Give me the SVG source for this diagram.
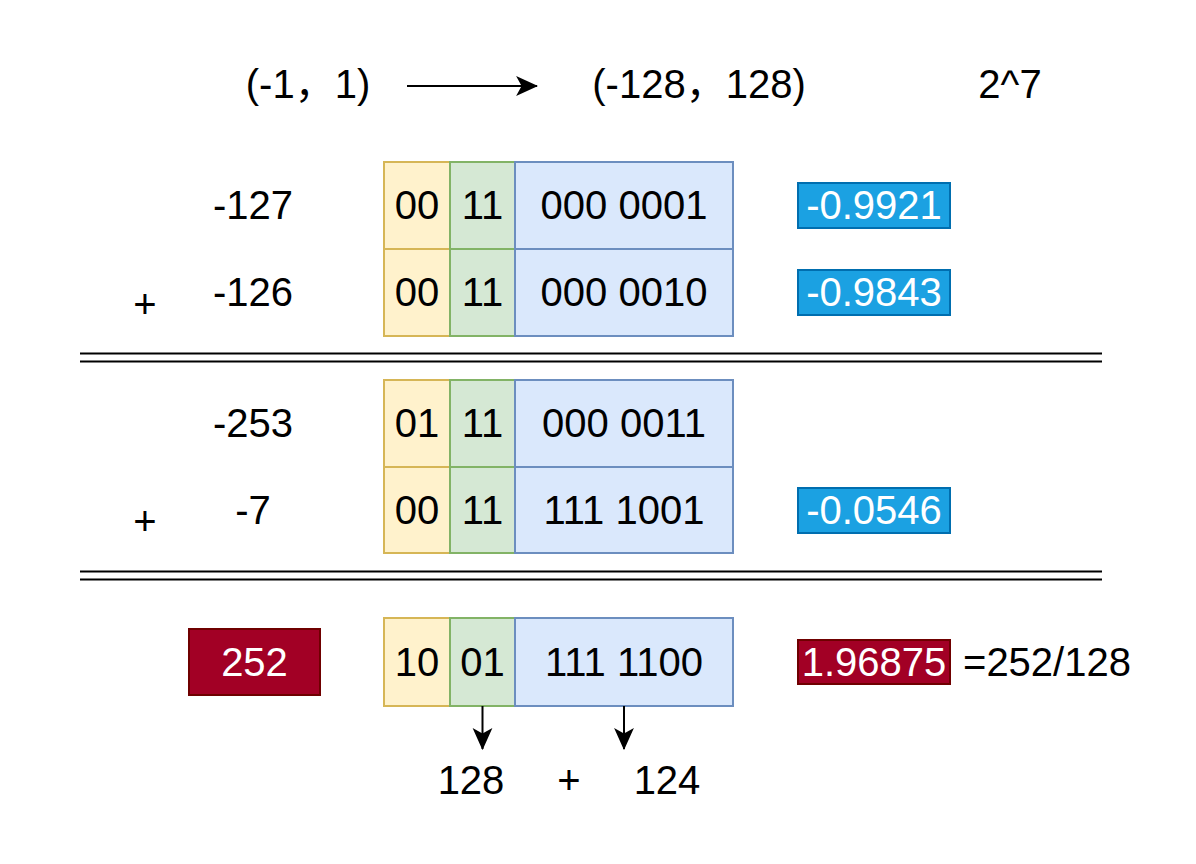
<svg xmlns="http://www.w3.org/2000/svg" width="1196" height="864" viewBox="0 0 1196 864">
<style>
text{font-family:"Liberation Sans","Noto Sans CJK SC",sans-serif;font-size:40px;fill:#000;text-anchor:middle}
.w{fill:#fff}
.y{fill:#fff2cc;stroke:#d6b656;stroke-width:2}
.g{fill:#d5e8d4;stroke:#82b366;stroke-width:2}
.b{fill:#dae8fc;stroke:#6c8ebf;stroke-width:2}
.lb{fill:#1ba1e2;stroke:#006eaf;stroke-width:2}
.rd{fill:#a20025;stroke:#6f0000;stroke-width:2}
.ln{stroke:#000;stroke-width:2;fill:none}
</style>
<defs>
<marker id="ah" markerUnits="userSpaceOnUse" markerWidth="22" markerHeight="22" viewBox="0 0 20 18" refX="19" refY="9" orient="auto">
<path d="M0,0 L20,9 L0,18 L5,9 Z" fill="#000"/>
</marker>
</defs>
<rect width="1196" height="864" fill="#fff"/>

<g id="header">
<text x="308" y="98">(-1，1)</text>
<text x="699" y="98">(-128，128)</text>
<text x="1010" y="98">2^7</text>
</g>

<g id="row1">
<text x="253" y="219">-127</text>
<rect class="y" x="384" y="162" width="66" height="87"/>
<rect class="g" x="450" y="162" width="65" height="87"/>
<rect class="b" x="515" y="162" width="218" height="87"/>
<text x="417" y="219">00</text>
<text x="482.5" y="219">11</text>
<text x="624" y="219">000 0001</text>
</g>
<g id="lbl1"><rect class="lb" x="798" y="183" width="152" height="45"/><text class="w" x="874" y="219">-0.9921</text></g>

<g id="row2">
<text x="145" y="318">+</text>
<text x="253" y="306">-126</text>
<rect class="y" x="384" y="249" width="66" height="87"/>
<rect class="g" x="450" y="249" width="65" height="87"/>
<rect class="b" x="515" y="249" width="218" height="87"/>
<text x="417" y="306">00</text>
<text x="482.5" y="306">11</text>
<text x="624" y="306">000 0010</text>
</g>
<g id="lbl2"><rect class="lb" x="798" y="270" width="152" height="45"/><text class="w" x="874" y="306">-0.9843</text></g>

<g id="sep1">
<line class="ln" x1="80" y1="353.5" x2="1102" y2="353.5"/>
<line class="ln" x1="80" y1="361.5" x2="1102" y2="361.5"/>
</g>

<g id="row3">
<text x="253" y="437">-253</text>
<rect class="y" x="384" y="380" width="66" height="87"/>
<rect class="g" x="450" y="380" width="65" height="87"/>
<rect class="b" x="515" y="380" width="218" height="87"/>
<text x="417" y="437">01</text>
<text x="482.5" y="437">11</text>
<text x="624" y="437">000 0011</text>
</g>

<g id="row4">
<text x="145" y="535">+</text>
<text x="253" y="524">-7</text>
<rect class="y" x="384" y="467" width="66" height="86"/>
<rect class="g" x="450" y="467" width="65" height="86"/>
<rect class="b" x="515" y="467" width="218" height="86"/>
<text x="417" y="524">00</text>
<text x="482.5" y="524">11</text>
<text x="624" y="524">111 1001</text>
</g>
<g id="lbl4"><rect class="lb" x="798" y="488" width="152" height="45"/><text class="w" x="874" y="524">-0.0546</text></g>

<g id="sep2">
<line class="ln" x1="80" y1="571.5" x2="1102" y2="571.5"/>
<line class="ln" x1="80" y1="579.5" x2="1102" y2="579.5"/>
</g>

<g id="result">
<rect class="rd" x="189" y="629" width="131" height="66"/>
<text class="w" x="254.5" y="676">252</text>
</g>
<g id="row5">
<rect class="y" x="384" y="618" width="66" height="88"/>
<rect class="g" x="450" y="618" width="65" height="88"/>
<rect class="b" x="515" y="618" width="218" height="88"/>
<text x="417" y="676">10</text>
<text x="482.5" y="676">01</text>
<text x="624" y="676">111 1100</text>
</g>
<g id="lbl5">
<rect class="rd" x="798" y="640" width="152" height="44"/>
<text class="w" x="874" y="676">1.96875</text>
<text x="1047" y="676">=252/128</text>
</g>

<g id="bottom">
<text x="471" y="794">128</text>
<text x="569" y="794">+</text>
<text x="667" y="794">124</text>
</g>

<g id="connectors">
<line class="ln" x1="407" y1="86" x2="537" y2="86" marker-end="url(#ah)"/>
<line class="ln" x1="482.5" y1="706" x2="482.5" y2="749" marker-end="url(#ah)"/>
<line class="ln" x1="624" y1="706" x2="624" y2="749" marker-end="url(#ah)"/>
</g>
</svg>
